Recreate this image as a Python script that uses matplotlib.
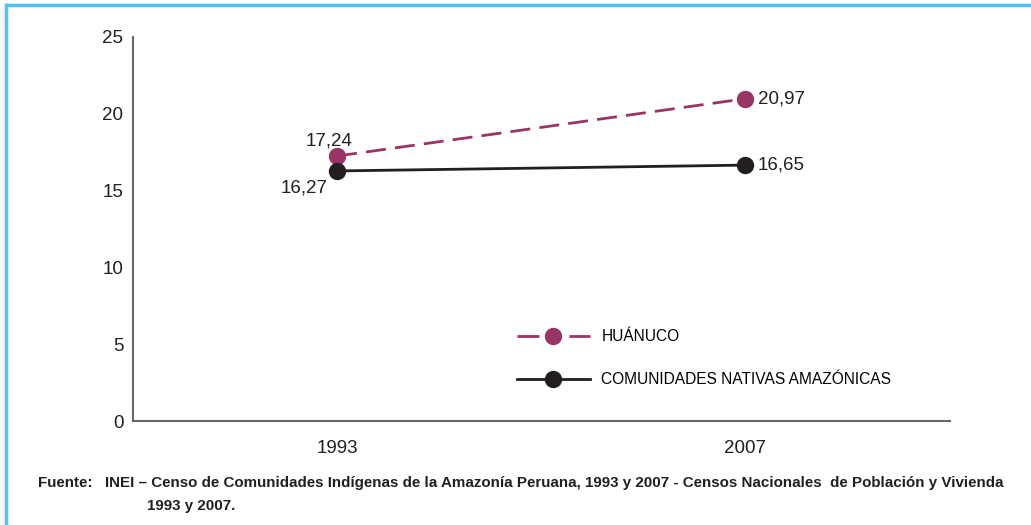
import matplotlib
matplotlib.use('Agg')
import matplotlib.pyplot as plt
from matplotlib.lines import Line2D

# ── datos ──────────────────────────────────────────────────────────────────
years = ['1993', '2007']
huanuco = [17.24, 20.97]
comunidades = [16.27, 16.65]
huanuco_lbl = ['17,24', '20,97']
comunidades_lbl = ['16,27', '16,65']
y_ticks = [0, 5, 10, 15, 20, 25]

PURPLE = '#9a3366'
BLACK = '#231f20'
GRAY = '#666666'
BLUE = '#4fc3f7'

plt.rcParams['font.family'] = ['Liberation Sans Narrow', 'Liberation Sans', 'DejaVu Sans']

fig = plt.figure(figsize=(10.31, 5.25), dpi=100)
ax = fig.add_axes([0.129, 0.198, 0.792, 0.732])

x = list(range(len(years)))
ax.plot(x, huanuco, color=PURPLE, lw=2, dashes=(7.2, 3.3), marker='o',
        markersize=11.5, zorder=3)
ax.plot(x, comunidades, color=BLACK, lw=2, marker='o',
        markersize=11.5, zorder=3)

# etiquetas de datos
ax.annotate(huanuco_lbl[0], (x[0], huanuco[0]), xytext=(-6, 5),
            textcoords='offset points', ha='center', va='bottom', fontsize=13.5, color=BLACK)
ax.annotate(comunidades_lbl[0], (x[0], comunidades[0]), xytext=(-24, -6),
            textcoords='offset points', ha='center', va='top', fontsize=13.5, color=BLACK)
ax.annotate(huanuco_lbl[1], (x[1], huanuco[1]), xytext=(9, 0),
            textcoords='offset points', ha='left', va='center', fontsize=13.5, color=BLACK)
ax.annotate(comunidades_lbl[1], (x[1], comunidades[1]), xytext=(9, 0),
            textcoords='offset points', ha='left', va='center', fontsize=13.5, color=BLACK)

ax.set_xlim(-0.5, 1.5)
ax.set_ylim(0, 25)
ax.set_xticks(x)
ax.set_xticklabels(years)
ax.set_yticks(y_ticks)
ax.tick_params(axis='both', length=0, labelsize=13.5, colors=BLACK)
ax.tick_params(axis='x', pad=14)
ax.tick_params(axis='y', pad=7)
for s in ['top', 'right']:
    ax.spines[s].set_visible(False)
for s in ['left', 'bottom']:
    ax.spines[s].set_color(GRAY)
    ax.spines[s].set_linewidth(1.5)

handles = [
    Line2D([], [], color=PURPLE, lw=2, linestyle=(0, (7.9, 10.8)), marker='o', markersize=11.5),
    Line2D([], [], color=BLACK, lw=2, marker='o', markersize=11.5),
]
ax.legend(handles, ['HUÁNUCO', 'COMUNIDADES NATIVAS AMAZÓNICAS'],
          loc='upper left', bbox_to_anchor=(0.495, 0.385), bbox_transform=fig.transFigure,
          frameon=False, fontsize=11.2, numpoints=1, handlelength=4.7,
          handletextpad=0.75, labelspacing=1.8, borderaxespad=0)

# fuente
fig.text(0.037, 0.08, 'Fuente:', fontsize=10.9, fontweight='bold', color=BLACK, va='center')
fig.text(0.102, 0.08, 'INEI – Censo de Comunidades Indígenas de la Amazonía Peruana, 1993 y 2007 '
         '- Censos Nacionales  de Población y Vivienda',
         fontsize=10.9, fontweight='bold', color=BLACK, va='center')
fig.text(0.143, 0.036, '1993 y 2007.', fontsize=10.9, fontweight='bold', color=BLACK, va='center')

# borde azul superior e izquierdo
fig.add_artist(Line2D([0.0055, 0.0055], [0, 0.99], transform=fig.transFigure, color=BLUE, lw=2.5))
fig.add_artist(Line2D([0.0055, 1.0], [0.99, 0.99], transform=fig.transFigure, color=BLUE, lw=2.5))

fig.savefig('out.png', dpi=100)
